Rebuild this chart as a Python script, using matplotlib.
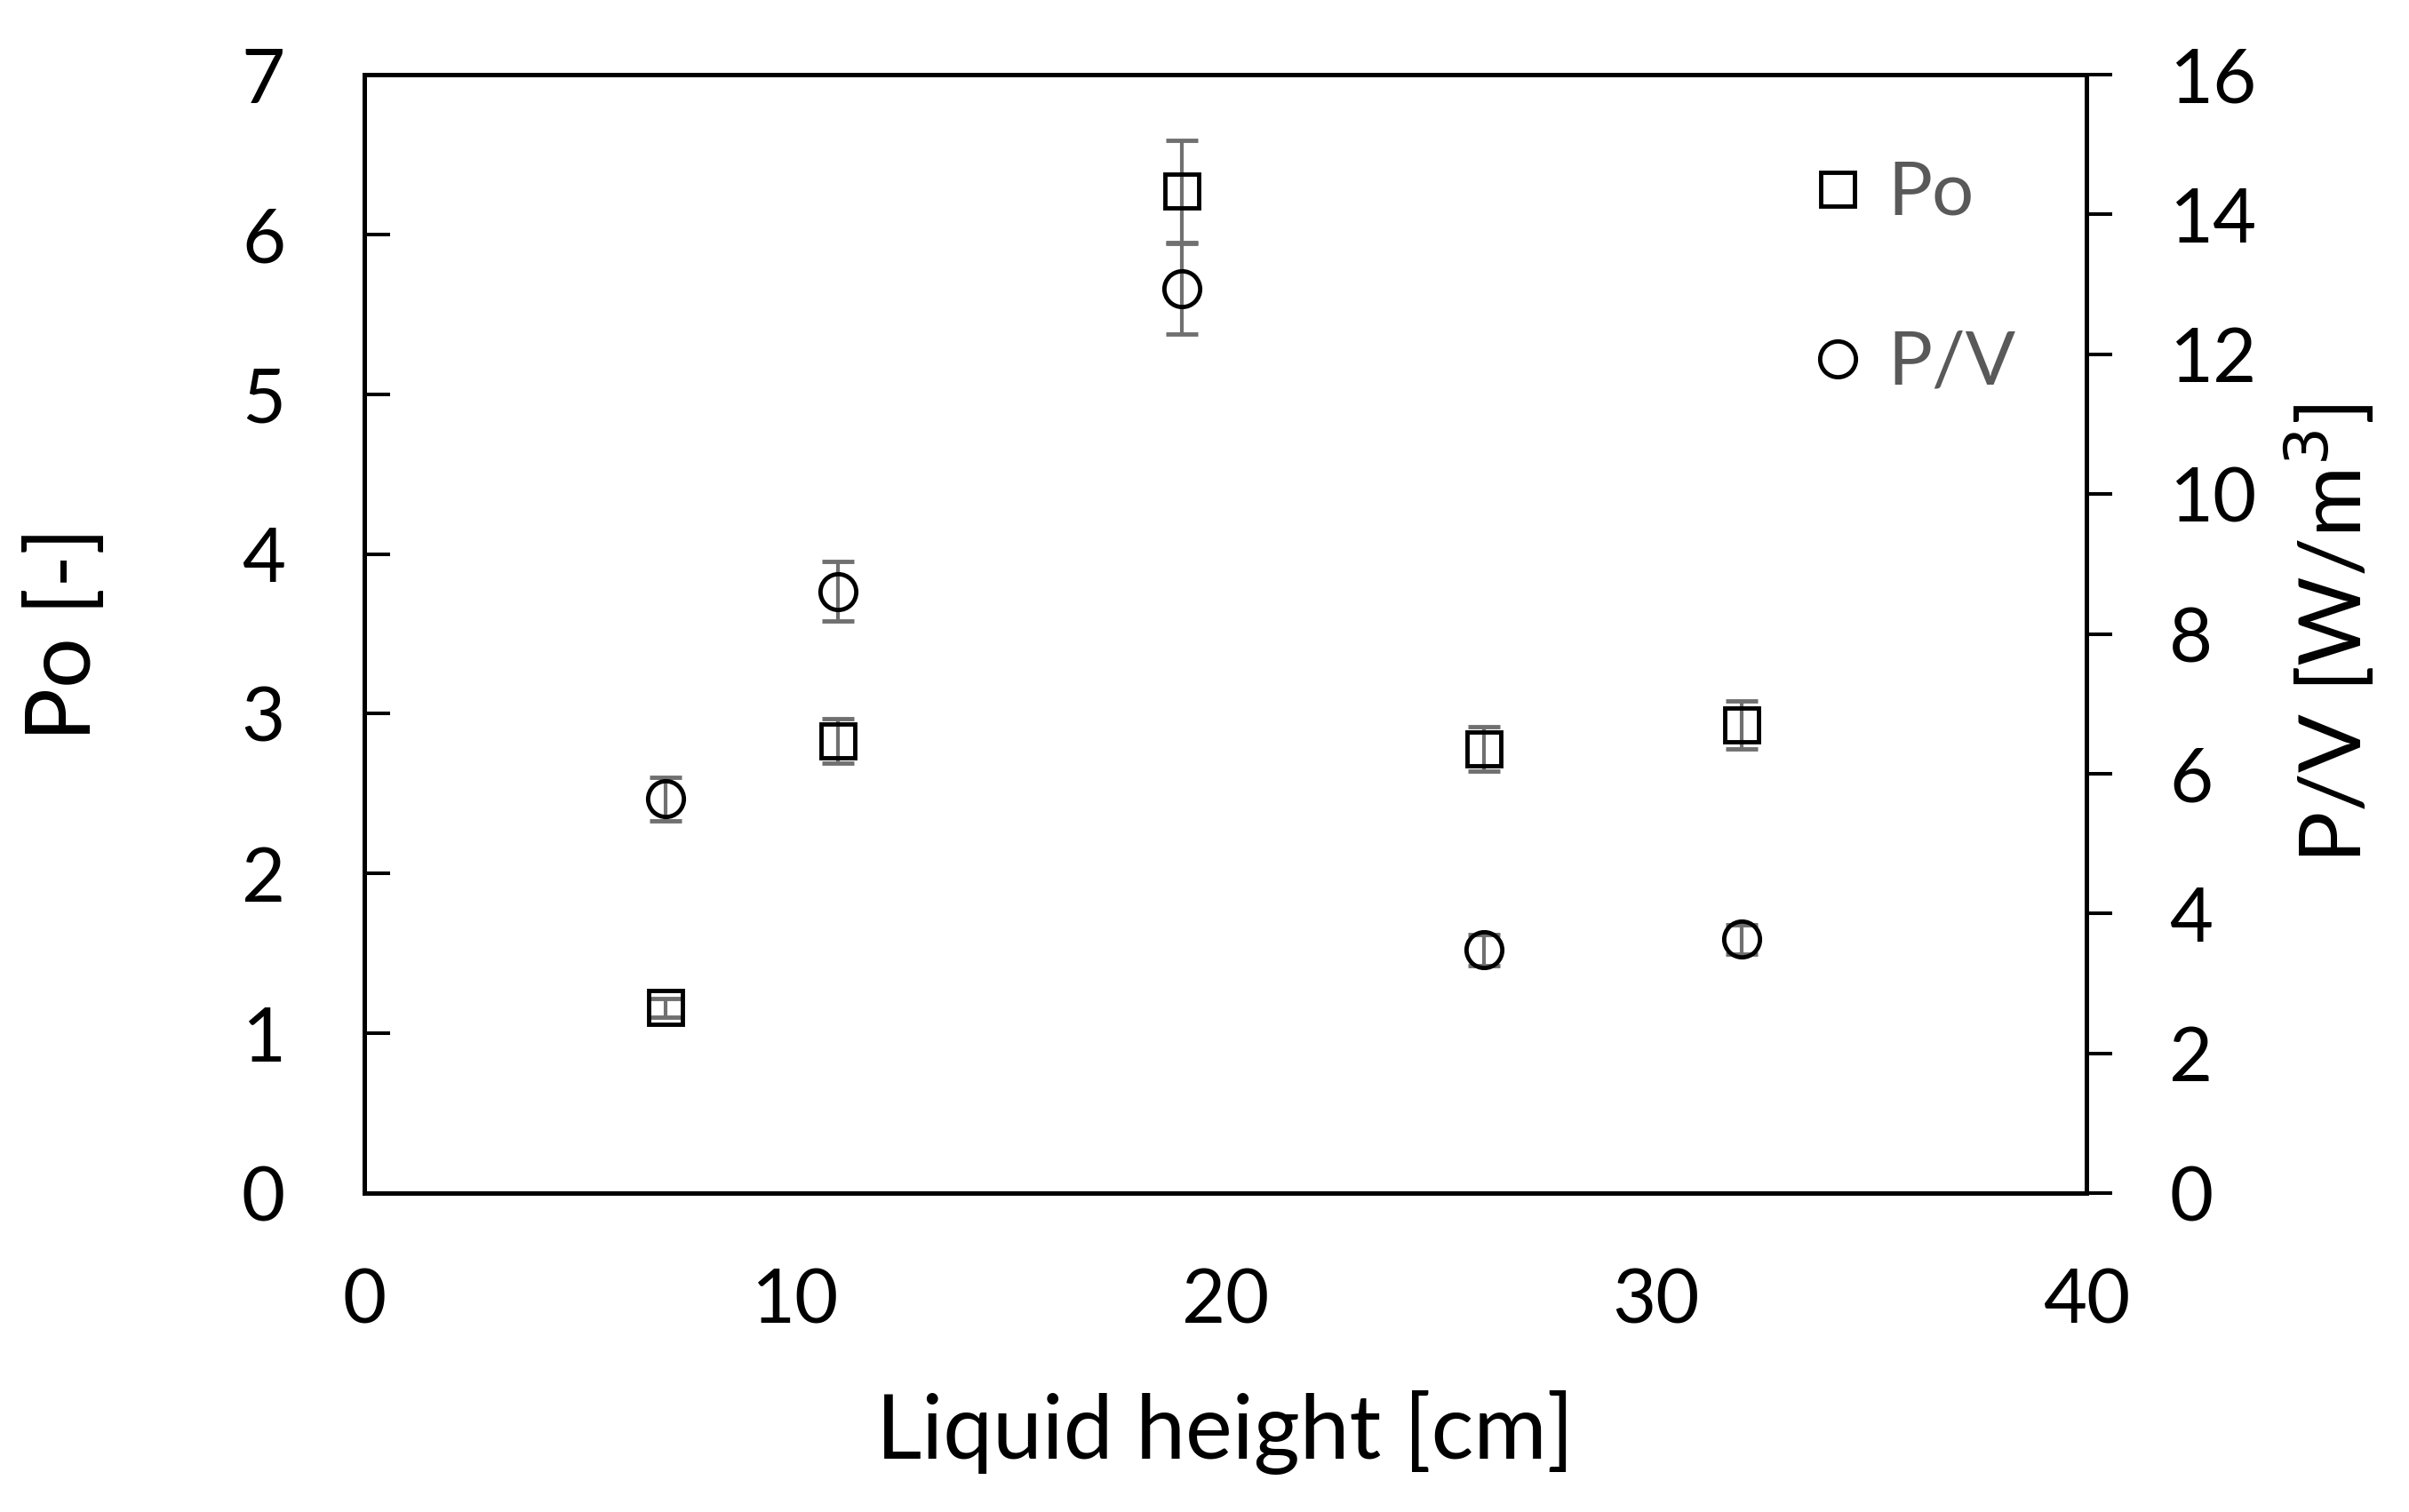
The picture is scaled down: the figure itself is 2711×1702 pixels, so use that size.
import numpy as np
import matplotlib
matplotlib.use('Agg')
import matplotlib.pyplot as plt
from matplotlib.lines import Line2D

plt.rcParams['font.family'] = ['Lato', 'DejaVu Sans']

# liquid height [cm]
height = [7, 11, 19, 26, 32]
# power number Po [-] and its error
po = [1.16, 2.83, 6.27, 2.78, 2.93]
po_err = [0.06, 0.14, 0.32, 0.14, 0.15]
# power per volume P/V [W/m3] and its error
pv = [5.64, 8.61, 12.94, 3.48, 3.63]
pv_err = [0.31, 0.43, 0.65, 0.22, 0.21]

x_ticks = [0, 10, 20, 30, 40]
po_ticks = list(range(0, 8))
pv_ticks = list(range(0, 17, 2))

err_col = '#707070'
text_gray = '#595959'

fig = plt.figure(figsize=(27.11, 17.02), dpi=100)
ax = fig.add_axes([0.1512, 0.2109, 0.8661 - 0.1512, 0.9506 - 0.2109])
ax2 = ax.twinx()

ax.errorbar(height, po, yerr=po_err, fmt='s', ms=27, mfc='none', mec='black', mew=3.5,
            ecolor=err_col, elinewidth=3, capsize=13, capthick=3, zorder=3)
ax2.errorbar(height, pv, yerr=pv_err, fmt='o', ms=29, mfc='none', mec='black', mew=3.5,
             ecolor=err_col, elinewidth=3, capsize=13, capthick=3, zorder=3)

ax.set_xlim(0, 40)
ax.set_ylim(0, 7)
ax2.set_ylim(0, 16)
ax.set_xticks(x_ticks)
ax.set_yticks(po_ticks)
ax2.set_yticks(pv_ticks)

for a in (ax, ax2):
    for s in a.spines.values():
        s.set_linewidth(3.6)
        s.set_color('black')

ax.tick_params(axis='x', length=0, pad=60, labelsize=61)
ax.tick_params(axis='y', direction='in', length=21, width=2.9, pad=64, labelsize=61)
ax2.tick_params(axis='y', direction='out', length=21, width=2.9, pad=46, labelsize=61)

ax.set_xlabel('Liquid height [cm]', fontsize=72, labelpad=44)
ax.set_ylabel('Po [-]', fontsize=72, labelpad=110)
ax2.set_ylabel('P/V [W/m$^3$]', fontsize=70, labelpad=22)

handles = [Line2D([], [], ls='none', marker='s', ms=27, mfc='none', mec='black', mew=3.5),
           Line2D([], [], ls='none', marker='o', ms=29, mfc='none', mec='black', mew=3.5)]
leg = ax2.legend(handles, ['Po', 'P/V'], loc='center left', bbox_to_anchor=(0.8427, 0.817),
                 frameon=False, fontsize=60, handlelength=0.6, handletextpad=0.37,
                 labelspacing=1.38, borderpad=0, borderaxespad=0)
for t in leg.get_texts():
    t.set_color(text_gray)

fig.savefig('out.png', dpi=100)
